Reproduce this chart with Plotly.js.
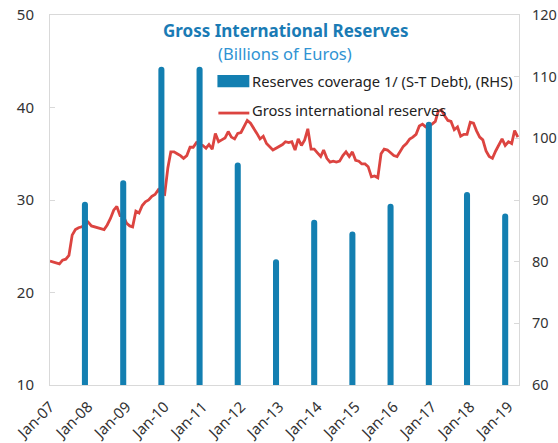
<!DOCTYPE html>
<html>
<head>
<meta charset="utf-8">
<script src="https://cdn.plot.ly/plotly-3.0.1.min.js"></script>
<style>html,body{margin:0;padding:0;background:#fff;}#chart{width:558px;height:443px;}</style>
</head>
<body>
<div id="chart"></div>
<script>
// Gross international reserves, billions of euros, monthly Jan-07 .. Apr-19 (LHS)
const reserveStart = [2007, 1];
const reserves = [
  23.4, 23.3, 23.2, 23.1, 23.5, 23.6, 24.0, 26.2, 26.8, 27.0, 27.1, 27.3,
  27.6, 27.2, 27.1, 27.0, 26.9, 26.8, 27.3, 28.0, 28.9, 29.3, 28.3, 28.3,
  27.5, 27.2, 27.1, 28.8, 28.6, 29.4, 29.8, 30.0, 30.4, 30.6, 31.1, 30.7,
  30.6, 33.5, 35.2, 35.2, 35.0, 34.8, 34.5, 34.8, 35.7, 35.7, 36.2, 36.0,
  35.9, 35.6, 36.0, 35.5, 37.2, 36.3, 36.5, 36.7, 37.4, 36.8, 36.6, 37.2,
  37.3, 37.9, 38.6, 38.3, 37.8, 37.2, 36.6, 36.9, 36.1, 35.8, 35.4, 35.6,
  35.8, 36.0, 36.3, 36.2, 36.3, 35.4, 36.6, 35.9, 36.5, 37.7, 35.5, 35.5,
  35.1, 34.7, 35.4, 34.5, 34.1, 34.2, 34.1, 34.2, 34.8, 35.2, 34.7, 35.2,
  34.3, 34.2, 33.9, 33.9, 33.6, 32.5, 32.6, 32.4, 35.0, 35.5, 35.4, 35.1,
  34.8, 34.7, 35.3, 35.8, 36.1, 36.6, 36.8, 37.1, 38.0, 38.2, 37.9, 38.0,
  38.2, 38.5, 39.6, 39.7, 39.1, 38.6, 38.5, 37.6, 37.9, 36.9, 37.1, 37.1,
  38.4, 38.3, 37.5, 36.8, 36.5, 35.3, 34.7, 34.5, 35.3, 36.0, 36.6, 35.9,
  36.3, 36.1, 37.5, 36.8
];

// Reserves coverage of short-term debt, percent (RHS), end-year
const coverageDates = ["2007-12-01","2008-12-01","2009-12-01","2010-12-01","2011-12-01","2012-12-01",
                       "2013-12-01","2014-12-01","2015-12-01","2016-12-01","2017-12-01","2018-12-01"];
const coverage = [89.7, 93.2, 111.6, 111.6, 96.1, 80.4, 86.8, 84.9, 89.4, 102.7, 91.3, 87.8];

const titleText = "Gross International Reserves";
const subtitleText = "(Billions of Euros)";
const barName = "Reserves coverage 1/ (S-T Debt), (RHS)";
const lineName = "Gross international reserves";

function monthDates(start, n) {
  const out = [];
  for (let i = 0; i < n; i++) {
    const total = (start[0] * 12 + (start[1] - 1)) + i;
    const y = Math.floor(total / 12), m = total % 12 + 1;
    out.push(y + "-" + String(m).padStart(2, "0") + "-01");
  }
  return out;
}
const reserveDates = monthDates(reserveStart, reserves.length);

const BLUE = "#137fb1";
const RED = "#dc4440";
const FONT = "Noto Sans, Open Sans, sans-serif";

const traces = [
  {
    type: "bar", name: barName, x: coverageDates, y: coverage, yaxis: "y2",
    width: 5.0e9, marker: {color: BLUE, cornerradius: 3}, showlegend: false, hoverinfo: "x+y"
  },
  {
    type: "scatter", mode: "lines", name: lineName, x: reserveDates, y: reserves, yaxis: "y",
    line: {color: RED, width: 2.8}, showlegend: false
  }
];

const axisLine = "#d9d9d9";
const layout = {
  width: 558, height: 443,
  margin: {l: 50, r: 39, t: 15, b: 58},
  paper_bgcolor: "#fff", plot_bgcolor: "#fff",
  font: {family: FONT, size: 14, color: "#333"},
  showlegend: false,
  xaxis: {
    type: "date", range: ["2007-01-01", "2019-04-12"],
    tick0: "2007-01-01", dtick: "M12", tickformat: "%b-%y", tickangle: -45,
    showgrid: false, zeroline: false, showline: true, linecolor: axisLine, linewidth: 1, mirror: true,
    ticks: "", ticklabelstandoff: 6, tickfont: {size: 15, color: "#333"}
  },
  yaxis: {
    range: [10, 50], dtick: 10, showgrid: false, zeroline: false,
    showline: true, linecolor: axisLine, linewidth: 1,
    ticks: "inside", ticklen: 5, tickcolor: axisLine, ticklabelstandoff: 12,
    tickfont: {size: 15, color: "#333"}
  },
  yaxis2: {
    range: [60, 120], dtick: 10, overlaying: "y", side: "right", showgrid: false, zeroline: false,
    showline: true, linecolor: axisLine, linewidth: 1,
    ticks: "inside", ticklen: 5, tickcolor: axisLine, ticklabelstandoff: 9,
    tickfont: {size: 14.5, color: "#333"}
  },
  shapes: [
    {type: "rect", xref: "paper", yref: "paper", x0: 0.357, x1: 0.425, y0: 0.805, y1: 0.838,
     fillcolor: BLUE, line: {width: 0}},
    {type: "line", xref: "paper", yref: "paper", x0: 0.359, x1: 0.425, y0: 0.735, y1: 0.735,
     line: {color: RED, width: 2.8}}
  ],
  annotations: [
    {text: "<b>" + titleText + "</b>", xref: "paper", yref: "paper", x: 0.502, y: 0.959,
     xanchor: "center", yanchor: "middle", showarrow: false, font: {size: 17, color: "#1a7bb5", family: FONT}},
    {text: subtitleText, xref: "paper", yref: "paper", x: 0.502, y: 0.897,
     xanchor: "center", yanchor: "middle", showarrow: false, font: {size: 16.5, color: "#2f93d3", family: FONT}},
    {text: barName, xref: "paper", yref: "paper", x: 0.427, y: 0.822,
     xanchor: "left", yanchor: "middle", showarrow: false, font: {size: 14.7, color: "#222", family: FONT}},
    {text: lineName, xref: "paper", yref: "paper", x: 0.427, y: 0.742,
     xanchor: "left", yanchor: "middle", showarrow: false, font: {size: 14.7, color: "#222", family: FONT}}
  ]
};

Plotly.newPlot("chart", traces, layout, {displayModeBar: false, staticPlot: true});
</script>
</body>
</html>
